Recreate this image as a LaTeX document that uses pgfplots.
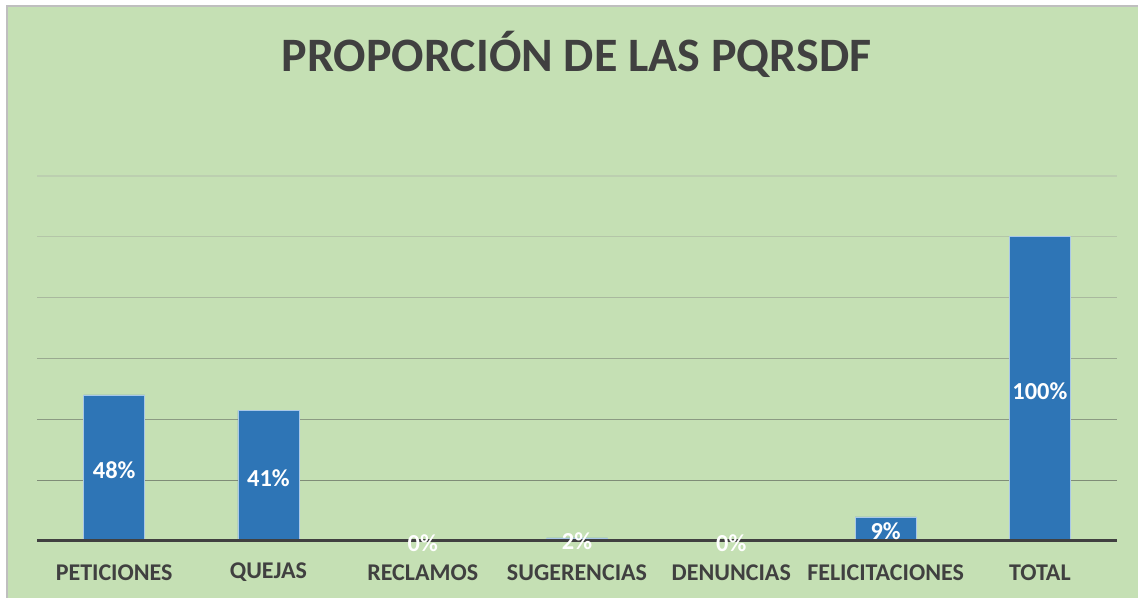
\documentclass[border=0pt]{standalone}
\usepackage{fontspec}
\setmainfont{Carlito}
\usepackage{pgfplots}
\usepackage{pgfplotstable}
\pgfplotsset{compat=1.18}
\definecolor{bg}{HTML}{C5E0B4}
\definecolor{barblue}{HTML}{2E75B6}
\definecolor{baredge}{HTML}{A9C8E8}
\definecolor{txt}{HTML}{404040}
\definecolor{g1}{HTML}{7F8C77}
\definecolor{g2}{HTML}{8C9B83}
\definecolor{g3}{HTML}{9AAA90}
\definecolor{g4}{HTML}{A9B99E}
\definecolor{g5}{HTML}{B4C6A8}
\definecolor{g6}{HTML}{BCCFB0}
\pgfplotstableread{
x y
0 48
1 42.9
2 0
3 1
4 0
5 7.9
6 100
}\bars
\pgfplotstableread{
x y lab
0 24 48
1 21.45 41
2 0 0
3 0.5 2
4 0 0
5 3.95 9
6 50 100
}\labs
\begin{document}
\begin{tikzpicture}[x=1pt,y=1pt]
\path[use as bounding box] (0,0) rectangle (569,299);
\fill[white] (0,0) rectangle (569,299);
\fill[bg] (3.5,0) rectangle (569,296);
\draw[color=black!25, line width=1pt] (3.5,0) -- (3.5,296) -- (569,296);
\node[font=\fontsize{24}{28}\selectfont\bfseries, text=txt, anchor=base] at (288.25,263.2) {PROPORCIÓN DE LAS PQRSDF};
\begin{axis}[
  at={(18.5pt,28.5pt)}, anchor=south west,
  scale only axis, width=540pt, height=182.5pt,
  xmin=-0.5, xmax=6.5, ymin=0, ymax=120,
  clip=false,
  axis line style={draw=none},
  tick style={draw=none},
  ytick=\empty,
  xtick={0,1,2,3,4,5,6},
  xticklabels={PETICIONES,QUEJAS,RECLAMOS,SUGERENCIAS,DENUNCIAS,FELICITACIONES,TOTAL},
  xticklabel style={font=\fontsize{12}{14}\selectfont\bfseries, text=txt, anchor=center, yshift=-15.8pt},
]
\draw[g1, line width=0.6pt] (axis cs:-0.5,20) -- (axis cs:6.5,20);
\draw[g2, line width=0.6pt] (axis cs:-0.5,40) -- (axis cs:6.5,40);
\draw[g3, line width=0.6pt] (axis cs:-0.5,60) -- (axis cs:6.5,60);
\draw[g4, line width=0.6pt] (axis cs:-0.5,80) -- (axis cs:6.5,80);
\draw[g5, line width=0.6pt] (axis cs:-0.5,100) -- (axis cs:6.5,100);
\draw[g6, line width=0.6pt] (axis cs:-0.5,120) -- (axis cs:6.5,120);
\addplot[ybar, bar width=30.5pt, fill=barblue, draw=baredge, line width=0.4pt] table[x=x,y=y] {\bars};
\draw[txt, line width=1.5pt] (axis cs:-0.5,0) -- (axis cs:6.5,0);
\addplot[draw=none, mark=none, nodes near coords={\pgfplotspointmeta\%}, point meta=explicit symbolic,
  nodes near coords style={anchor=center, yshift=-1pt, font=\fontsize{12.2}{14}\selectfont\bfseries, text=white}]
  table[x=x,y=y,meta=lab] {\labs};
\end{axis}
\end{tikzpicture}
\end{document}
